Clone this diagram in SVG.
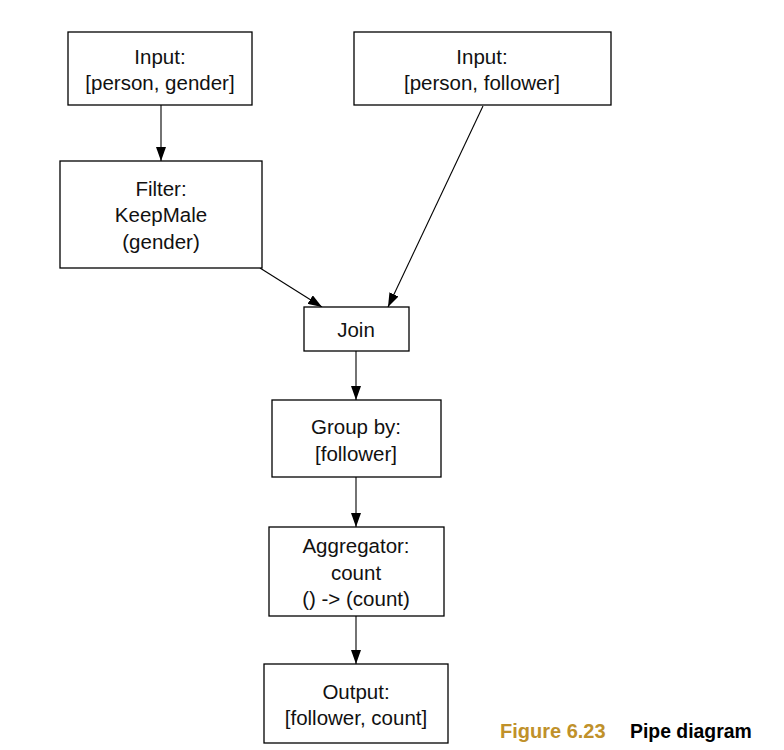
<svg xmlns="http://www.w3.org/2000/svg" width="784" height="750" viewBox="0 0 784 750">
<style>
.box{fill:#fff;stroke:#000;stroke-width:1.3}
.t{font-family:"Liberation Sans",Arial,sans-serif;font-size:20.5px;fill:#111;text-anchor:middle}
.e{stroke:#000;stroke-width:1.1;fill:none;marker-end:url(#ah)}
.cap{font-family:"Liberation Sans",Arial,sans-serif;font-size:20px;font-weight:bold}
</style>
<defs>
<marker id="ah" viewBox="0 0 14 10" refX="14" refY="5" markerWidth="14" markerHeight="10" markerUnits="userSpaceOnUse" orient="auto">
<path d="M0,0 L14,5 L0,10 Z" fill="#000"/>
</marker>
</defs>
<rect width="784" height="750" fill="#fff"/>
<g id="connectors">
<line class="e" x1="161" y1="105" x2="161" y2="161"/>
<line class="e" x1="260" y1="268" x2="322" y2="307"/>
<line class="e" x1="483" y1="106" x2="388" y2="307"/>
<line class="e" x1="356" y1="351" x2="356" y2="400"/>
<line class="e" x1="356" y1="477" x2="356" y2="527"/>
<line class="e" x1="356" y1="616" x2="356" y2="664"/>
</g>
<g id="input1">
<rect class="box" x="68" y="32" width="184" height="73"/>
<text class="t" x="160" y="64">Input:</text>
<text class="t" x="160" y="90">[person, gender]</text>
</g>
<g id="input2">
<rect class="box" x="354" y="32" width="257" height="73"/>
<text class="t" x="482" y="64">Input:</text>
<text class="t" x="482" y="90">[person, follower]</text>
</g>
<g id="filter">
<rect class="box" x="60" y="161" width="202" height="107"/>
<text class="t" x="161" y="196">Filter:</text>
<text class="t" x="161" y="222">KeepMale</text>
<text class="t" x="161" y="249">(gender)</text>
</g>
<g id="join">
<rect class="box" x="304" y="307" width="105" height="44"/>
<text class="t" x="356" y="337">Join</text>
</g>
<g id="groupby">
<rect class="box" x="272" y="400" width="169" height="77"/>
<text class="t" x="356" y="434">Group by:</text>
<text class="t" x="356" y="461">[follower]</text>
</g>
<g id="aggregator">
<rect class="box" x="269" y="527" width="175" height="89"/>
<text class="t" x="356" y="553">Aggregator:</text>
<text class="t" x="356" y="580">count</text>
<text class="t" x="356" y="606">() -&gt; (count)</text>
</g>
<g id="output">
<rect class="box" x="264" y="664" width="184" height="79"/>
<text class="t" x="356" y="699">Output:</text>
<text class="t" x="356" y="725">[follower, count]</text>
</g>
<g id="caption">
<text class="cap" x="500" y="738" fill="#c0912a">Figure 6.23</text>
<text class="cap" x="630" y="738" fill="#000" style="font-size:19.4px">Pipe diagram</text>
</g>
</svg>
